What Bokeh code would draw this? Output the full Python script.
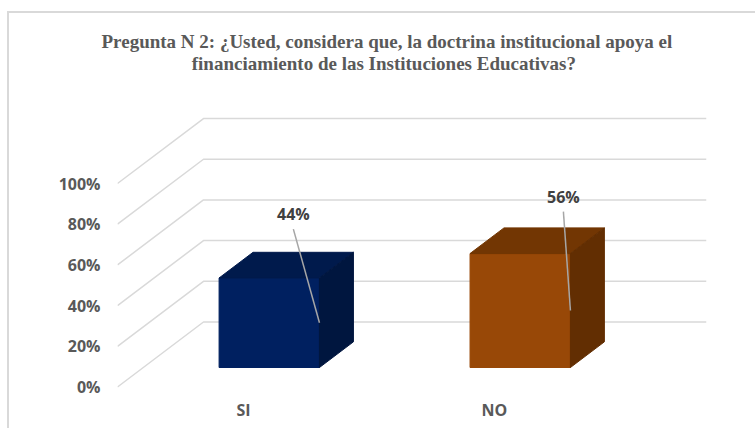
from bokeh.plotting import figure
from bokeh.models import Range1d, FixedTicker
from bokeh.core.properties import value
from bokeh.embed import file_html
from bokeh.resources import INLINE

# ---- data ----
categories = ["SI", "NO"]
percentages = [44, 56]
data_labels = ["44%", "56%"]
y_ticks = [0, 20, 40, 60, 80, 100]
y_tick_labels = ["0%", "20%", "40%", "60%", "80%", "100%"]
title_lines = ["Pregunta N 2: ¿Usted, considera que, la doctrina institucional apoya el",
               "financiamiento de las Instituciones Educativas?"]

# ---- colours ----
front_colors = ["#002060", "#984807"]
top_colors = ["#001A4C", "#723603"]
side_colors = ["#00163F", "#622E02"]
GRID = "#D9D9D9"
TEXT = "#595959"

# ---- oblique projection of the 3D chart: depth 0 = front of floor, 1 = back wall ----
DEPTH_X = 0.3426     # category units
DEPTH_Y = 31.94      # percent units
BAR_WIDTH = 0.4
BAR_D0 = 0.30
BAR_D1 = 0.695
X_START = -0.502
X_END = 1.845


def proj(x, v, d):
    return x + d * DEPTH_X, v + d * DEPTH_Y


p = figure(width=755, height=428, output_backend="svg", toolbar_location=None,
           x_range=Range1d(X_START, X_END), y_range=Range1d(-2.7, 140.8),
           min_border_left=117, min_border_right=49, min_border_bottom=36, min_border_top=100,
           background_fill_color="white", border_fill_color=None, outline_line_color=None,
           styles={"background":
                   f"linear-gradient({GRID},{GRID}) 7px 11px/748px 2px no-repeat,"
                   f"linear-gradient({GRID},{GRID}) 7px 11px/2px 417px no-repeat"})

# two-line title; non-breaking spaces centre the second line under the first
p.title.text = title_lines[0] + "\n" + "\u00a0" * 19 + title_lines[1]
p.title.align = "left"
p.title.offset = -16
p.title.standoff = 52
p.title.text_font = "Liberation Serif"
p.title.text_font_size = "19px"
p.title.text_font_style = "bold"
p.title.text_color = TEXT
p.title.text_line_height = 1.055

p.xgrid.visible = False
p.ygrid.visible = False

p.yaxis.ticker = FixedTicker(ticks=y_ticks)
p.yaxis.major_label_overrides = dict(zip(y_ticks, y_tick_labels))
p.xaxis.ticker = FixedTicker(ticks=list(range(len(categories))))
p.xaxis.major_label_overrides = dict(enumerate(categories))
for ax, standoff in ((p.yaxis[0], 17), (p.xaxis[0], 6)):
    ax.axis_line_color = None
    ax.major_tick_line_color = None
    ax.minor_tick_line_color = None
    ax.major_tick_out = 0
    ax.major_tick_in = 0
    ax.major_label_standoff = standoff
    ax.major_label_text_font = "Open Sans"
    ax.major_label_text_font_size = "16px"
    ax.major_label_text_font_style = "bold"
    ax.major_label_text_color = TEXT

# wall and side gridlines
for t in y_ticks:
    xa, ya = proj(X_START, t, 0)
    xb, yb = proj(X_START, t, 1)
    p.line([xa, xb, X_END], [ya, yb, yb], line_color=GRID, line_width=1.5)

# 3D bars
for i, v in enumerate(percentages):
    xl, xr = i - BAR_WIDTH / 2, i + BAR_WIDTH / 2
    fl_b = proj(xl, 0, BAR_D0)
    fr_b = proj(xr, 0, BAR_D0)
    fr_t = proj(xr, v, BAR_D0)
    fl_t = proj(xl, v, BAR_D0)
    br_b = proj(xr, 0, BAR_D1)
    br_t = proj(xr, v, BAR_D1)
    bl_t = proj(xl, v, BAR_D1)
    faces = [
        ([fl_b, fr_b, fr_t, fl_t], front_colors[i]),
        ([fl_t, fr_t, br_t, bl_t], top_colors[i]),
        ([fr_b, br_b, br_t, fr_t], side_colors[i]),
    ]
    for pts, c in faces:
        p.patch([q[0] for q in pts], [q[1] for q in pts], fill_color=c, line_color=c, line_width=1)

    # leader line + data label
    ax_, ay_ = proj(xr, v / 2, BAR_D0)
    lx = ax_ + [-0.104, -0.028][i]
    ly = ay_ + [46, 48.6][i]
    p.line([ax_, lx], [ay_, ly], line_color="#A6A6A6", line_width=1.5)
    p.text([lx], [ly + 2], text=[data_labels[i]], text_align="center", text_baseline="bottom",
           text_font=value("Open Sans"), text_font_size="16px", text_font_style="bold",
           text_color="#404040")

open("out.html", "w").write(file_html(p, INLINE))
